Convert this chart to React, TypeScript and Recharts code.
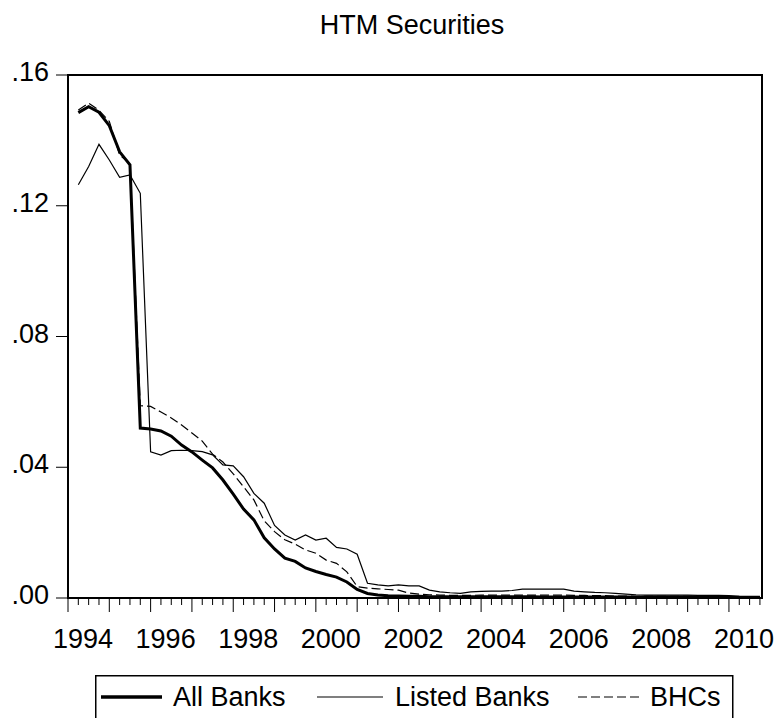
import React from "react";
import { LineChart, Line, XAxis, YAxis, ReferenceArea, Legend } from "recharts";

// Quarterly observations, 1994Q2 .. 2010Q4 (index k = quarters since 1994Q1)
const allBanks = [
  0.1485, 0.1503, 0.1486, 0.1445, 0.1365, 0.1325, 0.0520, 0.0517, 0.0511, 0.0495,
  0.0468, 0.0447, 0.0422, 0.0398, 0.0361, 0.0318, 0.0272, 0.0239, 0.0184, 0.0150,
  0.0122, 0.0112, 0.0092, 0.0081, 0.0072, 0.0064, 0.0049, 0.0026, 0.0014, 0.0009,
  0.0007, 0.0006, 0.0005, 0.0005, 0.0004, 0.0004, 0.0004, 0.0004, 0.0004, 0.0004,
  0.0004, 0.0004, 0.0004, 0.0004, 0.0004, 0.0003, 0.0003, 0.0003, 0.0003, 0.0003,
  0.0003, 0.0003, 0.0003, 0.0003, 0.0003, 0.0003, 0.0003, 0.0003, 0.0003, 0.0003,
  0.0003, 0.0003, 0.0002, 0.0002, 0.0002, 0.0002, 0.0002,
];

const listedBanks = [
  0.1264, 0.1320, 0.1388, 0.1340, 0.1287, 0.1294, 0.1238, 0.0447, 0.0437, 0.0451,
  0.0452, 0.0451, 0.0448, 0.0438, 0.0407, 0.0404, 0.0371, 0.0320, 0.0290, 0.0222,
  0.0193, 0.0177, 0.0193, 0.0177, 0.0183, 0.0155, 0.0150, 0.0134, 0.0045, 0.0040,
  0.0037, 0.0040, 0.0037, 0.0037, 0.0024, 0.0019, 0.0016, 0.0014, 0.0019, 0.0020,
  0.0021, 0.0021, 0.0023, 0.0027, 0.0027, 0.0027, 0.0027, 0.0027, 0.0021, 0.0019,
  0.0017, 0.0016, 0.0014, 0.0012, 0.0010, 0.0009, 0.0009, 0.0009, 0.0009, 0.0009,
  0.0008, 0.0008, 0.0008, 0.0007, 0.0005, 0.0004, 0.0004,
];

const bhcs = [
  0.1493, 0.1514, 0.1492, 0.1458, 0.1355, 0.1330, 0.0588, 0.0586, 0.0569, 0.0551,
  0.0529, 0.0505, 0.0480, 0.0440, 0.0416, 0.0380, 0.0340, 0.0300, 0.0236, 0.0203,
  0.0178, 0.0165, 0.0147, 0.0137, 0.0116, 0.0106, 0.0080, 0.0035, 0.0030, 0.0028,
  0.0026, 0.0024, 0.0015, 0.0012, 0.0010, 0.0009, 0.0008, 0.0008, 0.0008, 0.0009,
  0.0009, 0.0009, 0.0009, 0.0009, 0.0009, 0.0009, 0.0009, 0.0009, 0.0008, 0.0008,
  0.0007, 0.0007, 0.0006, 0.0006, 0.0005, 0.0005, 0.0005, 0.0005, 0.0005, 0.0005,
  0.0005, 0.0004, 0.0004, 0.0004, 0.0003, 0.0003, 0.0003,
];

const firstYear = 1994;
const yearLabels = ["1994", "1996", "1998", "2000", "2002", "2004", "2006", "2008", "2010"];
const yTicks = [0, 0.04, 0.08, 0.12, 0.16];
const yTickLabels = [".00", ".04", ".08", ".12", ".16"];
const seriesNames = ["All Banks", "Listed Banks", "BHCs"];
const title = "HTM Securities";

const FONT = '"Liberation Sans", Arial, Helvetica, sans-serif';

const data = allBanks.map((v, i) => ({
  k: i + 1,
  all: v,
  listed: listedBanks[i],
  bhc: bhcs[i],
}));

const quarterTicks = Array.from({ length: 68 }, (_, i) => i);

const XTick = (props: any) => {
  const { x, y, payload } = props;
  const k = payload.value as number;
  const major = k % 4 === 0;
  const yr = String(firstYear + k / 4);
  const label = major && yearLabels.includes(yr) ? yr : null;
  return (
    <g>
      <line x1={x} x2={x} y1={y} y2={y + (major ? 14 : 7)} stroke="#000" strokeWidth={1} />
      {label && (
        <text x={x + 15} y={y + 50} textAnchor="middle" fontSize={27} fontFamily={FONT} fill="#000">
          {label}
        </text>
      )}
    </g>
  );
};

const YTick = (props: any) => {
  const { x, y, payload } = props;
  const idx = yTicks.indexOf(payload.value);
  return (
    <g>
      <line x1={x - 12} x2={x} y1={y} y2={y} stroke="#000" strokeWidth={1} />
      <text x={x - 19} y={y + 6} textAnchor="end" fontSize={27} fontFamily={FONT} fill="#000">
        {idx >= 0 ? yTickLabels[idx] : ""}
      </text>
    </g>
  );
};

const LegendBox = () => (
  <svg width={640} height={60} style={{ display: "block" }}>
    <rect x={0.75} y={0.75} width={637} height={70} fill="#fff" stroke="#000" strokeWidth={1.5} />
    <line x1={6} x2={67} y1={22} y2={22} stroke="#000" strokeWidth={3.5} />
    <text x={78} y={31} fontSize={27} fontFamily={FONT} fill="#000">{seriesNames[0]}</text>
    <line x1={222} x2={288} y1={22} y2={22} stroke="#000" strokeWidth={1.2} />
    <text x={300} y={31} fontSize={27} fontFamily={FONT} fill="#000">{seriesNames[1]}</text>
    <line x1={483} x2={546} y1={22} y2={22} stroke="#000" strokeWidth={1.2} strokeDasharray="9 4" />
    <text x={555} y={31} fontSize={27} fontFamily={FONT} fill="#000">{seriesNames[2]}</text>
  </svg>
);

export default function App() {
  return (
    <div
      style={{
        position: "absolute",
        left: 0,
        top: 0,
        width: 783,
        height: 718,
        overflow: "hidden",
        background: "#fff",
      }}
    >
      <svg
        width={783}
        height={60}
        style={{ position: "absolute", left: 0, top: 0, pointerEvents: "none" }}
      >
        <text x={412} y={34} textAnchor="middle" fontSize={27} fontFamily={FONT} fill="#000">
          {title}
        </text>
      </svg>
      <LineChart
        width={783}
        height={718}
        data={data}
        margin={{ top: 75, right: 21, bottom: 0, left: 0 }}
        style={{ position: "absolute", left: 0, top: 0 }}
      >
        <XAxis
          type="number"
          dataKey="k"
          domain={[0, 67.2]}
          ticks={quarterTicks}
          interval={0}
          height={120}
          tickSize={0}
          tickMargin={0}
          axisLine={false}
          tickLine={false}
          tick={<XTick />}
          allowDataOverflow
        />
        <YAxis
          type="number"
          domain={[0, 0.16]}
          ticks={yTicks}
          interval={0}
          width={68}
          tickSize={0}
          tickMargin={0}
          axisLine={false}
          tickLine={false}
          tick={<YTick />}
          allowDataOverflow
        />
        <ReferenceArea
          x1={0}
          x2={67.2}
          y1={0}
          y2={0.16}
          fill="none"
          stroke="#000"
          strokeWidth={2}
          ifOverflow="visible"
        />
        <Line
          type="linear"
          dataKey="listed"
          name={seriesNames[1]}
          stroke="#000"
          strokeWidth={1.2}
          dot={false}
          isAnimationActive={false}
        />
        <Line
          type="linear"
          dataKey="bhc"
          name={seriesNames[2]}
          stroke="#000"
          strokeWidth={1.2}
          strokeDasharray="9 4"
          dot={false}
          isAnimationActive={false}
        />
        <Line
          type="linear"
          dataKey="all"
          name={seriesNames[0]}
          stroke="#000"
          strokeWidth={3}
          dot={false}
          isAnimationActive={false}
        />
        <Legend
          layout="horizontal"
          verticalAlign="middle"
          align="center"
          content={() => <LegendBox />}
          wrapperStyle={{ top: 675, left: 95, width: 640, height: 60 }}
        />
      </LineChart>
    </div>
  );
}
